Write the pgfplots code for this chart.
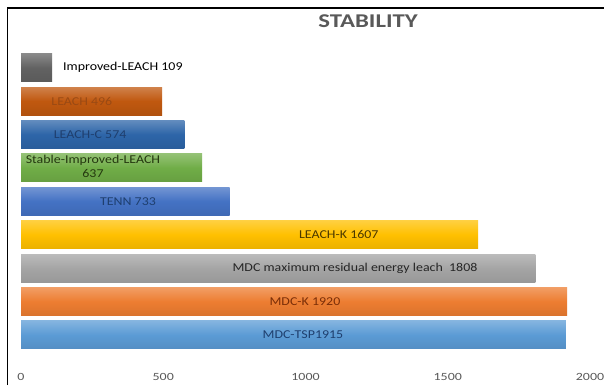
\documentclass[border=0pt]{standalone}
\usepackage{pgfplots}
\pgfplotsset{compat=1.18}
\usepackage{graphicx}
\usepackage{fontspec}
\setmainfont{Carlito}

\definecolor{cImp}{HTML}{626262}
\definecolor{cLeach}{HTML}{C0580F}
\definecolor{cLeachC}{HTML}{2D65A8}
\definecolor{cStable}{HTML}{70AD47}
\definecolor{cTenn}{HTML}{4472C4}
\definecolor{cLeachK}{HTML}{FFC000}
\definecolor{cMax}{HTML}{A5A5A5}
\definecolor{cMdcK}{HTML}{ED7D31}
\definecolor{cTsp}{HTML}{5B9BD5}
\definecolor{titlegray}{HTML}{595959}
\definecolor{navy}{HTML}{1F3F6E}
\definecolor{rust}{HTML}{7A2E08}
\definecolor{brownk}{HTML}{4A3800}
\definecolor{darkgreen}{HTML}{24380F}
\definecolor{leachtxt}{HTML}{9A4A14}

% text in this chart is set slightly wide
\newcommand{\wide}[1]{\scalebox{1.27}[1]{#1}}
\newcommand{\lbl}[1]{\scalebox{1.16}[1]{#1}}

\pgfplotsset{
  hbar/.style={xbar, bar width=28pt, bar shift=0pt, draw=none,
    top color=#1!75!white, bottom color=#1!92!black, middle color=#1},
}

\begin{document}
\begin{tikzpicture}
\useasboundingbox (0,0) rectangle (604pt,385pt);
\fill[white] (0,0) rectangle (604pt,385pt);
% frame on the left and top
\draw[line width=1.5pt] (7.5pt,0) -- (7.5pt,377pt) -- (604pt,377pt);
\node[font=\fontsize{19.5}{23}\selectfont\bfseries, text=titlegray] at (368pt,364pt) {\wide{STABILITY}};
\begin{axis}[
  at={(21pt,19pt)}, anchor=south west,
  scale only axis, width=569pt, height=315pt,
  xmin=0, xmax=2000, ymin=-0.93, ymax=8.5,
  axis line style={draw=none},
  major tick length=0pt,
  ytick=\empty,
  xtick={0,500,1000,1500,2000},
  xticklabel={\wide{\pgfmathprintnumber[assume math mode=true,1000 sep={}]{\tick}}},
  xticklabel style={font=\fontsize{11}{13}\selectfont, text=titlegray, yshift=-4pt},
  clip=false,
]
\addplot[hbar=cTsp]    coordinates {(1915,0)};
\addplot[hbar=cMdcK]   coordinates {(1920,1)};
\addplot[hbar=cMax]    coordinates {(1808,2)};
\addplot[hbar=cLeachK] coordinates {(1607,3)};
\addplot[hbar=cTenn]   coordinates {(733,4)};
\addplot[hbar=cStable] coordinates {(637,5)};
\addplot[hbar=cLeachC] coordinates {(574,6)};
\addplot[hbar=cLeach]  coordinates {(496,7)};
\addplot[hbar=cImp]    coordinates {(109,8)};

\begin{scope}[font=\fontsize{12}{13.5}\selectfont]
\node[text=navy] at (axis cs:991,0) {\lbl{MDC-TSP1915}};
\node[text=rust] at (axis cs:998,1) {\lbl{MDC-K 1920}};
\node[text=black!85] at (axis cs:1174,2) {\lbl{MDC maximum residual energy leach\ \ 1808}};
\node[text=brownk] at (axis cs:1117,3) {\lbl{LEACH-K 1607}};
\node[text=navy] at (axis cs:376,4) {\lbl{TENN 733}};
\node[text=darkgreen, inner sep=0pt] at (axis cs:253,5)
  {\lbl{\begin{tabular}{@{}c@{}}Stable-Improved-LEACH\\637\end{tabular}}};
\node[text=navy] at (axis cs:243,6) {\lbl{LEACH-C 574}};
\node[text=leachtxt] at (axis cs:214,7) {\lbl{LEACH 496}};
\node[text=black, anchor=west] at (axis cs:136,8) {\lbl{Improved-LEACH 109}};
\end{scope}
\end{axis}
\end{tikzpicture}
\end{document}
